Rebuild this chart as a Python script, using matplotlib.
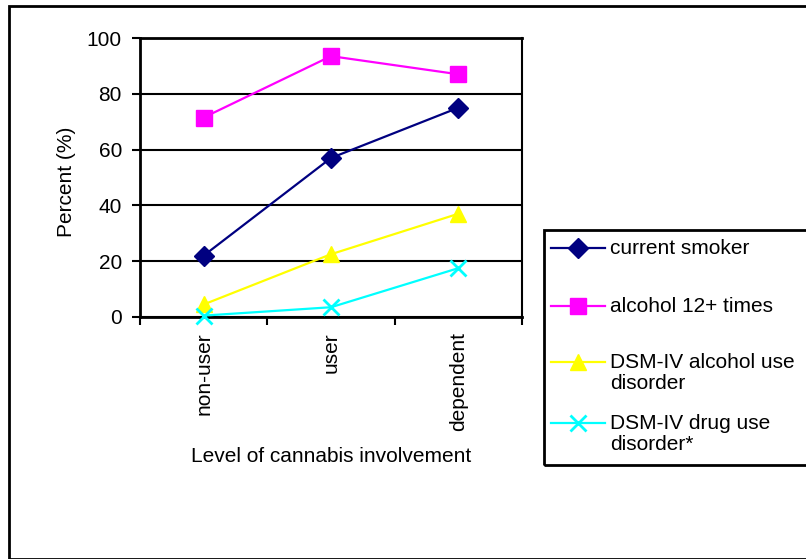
import matplotlib
matplotlib.use("Agg")
import matplotlib.pyplot as plt
from matplotlib.lines import Line2D
from matplotlib.patches import Rectangle

plt.rcParams['font.family'] = ['Liberation Sans', 'DejaVu Sans']

categories = ["non-user", "user", "dependent"]
series_names = ["current smoker", "alcohol 12+ times",
                "DSM-IV alcohol use\ndisorder", "DSM-IV drug use\ndisorder*"]
current_smoker = [22, 57, 75]
alcohol_12 = [71.5, 93.5, 87]
dsm_alcohol = [4.5, 22.5, 37]
dsm_drug = [0.5, 3.5, 17.5]
y_ticks = [0, 20, 40, 60, 80, 100]

values = [current_smoker, alcohol_12, dsm_alcohol, dsm_drug]
colors = ["#000080", "#FF00FF", "#FFFF00", "#00FFFF"]
markers = ["D", "s", "^", "x"]
msizes = [10, 11, 11, 11]
FS = 15

W, H = 806, 559
fig = plt.figure(figsize=(W / 100, H / 100), dpi=100)

# outer chart frame
fig.patches.append(Rectangle((9 / W, 0), 2, 1 - 6 / H, transform=fig.transFigure,
                             fill=False, edgecolor="black", linewidth=2))

ax = fig.add_axes([140 / W, 1 - 317 / H, (522 - 140) / W, (317 - 38) / H])
x = list(range(len(categories)))
for vals, c, m, ms in zip(values, colors, markers, msizes):
    ax.plot(x, vals, color=c, linewidth=1.6, marker=m, markersize=ms,
            markeredgewidth=2 if m == "x" else 1, markeredgecolor=c,
            markerfacecolor=c, clip_on=False, zorder=3)

ax.set_xlim(-0.5, len(categories) - 0.5)
ax.set_ylim(0, 100)
ax.set_yticks(y_ticks)
ax.tick_params(axis='y', direction='out', length=6, width=1.5, labelsize=FS, pad=7)
ax.set_xticks(x)
ax.set_xticklabels(categories, rotation=90, fontsize=FS)
ax.tick_params(axis='x', which='major', length=0, pad=11)
ax.set_xticks([i - 0.5 for i in range(len(categories) + 1)], minor=True)
ax.tick_params(axis='x', which='minor', direction='out', length=6, width=1.5)
ax.grid(axis='y', color='black', linewidth=1.5)
ax.set_axisbelow(True)
for side in ["left", "bottom", "top"]:
    ax.spines[side].set_linewidth(2)
ax.spines["right"].set_linewidth(1.5)

fig.text(67 / W, 1 - 182 / H, "Percent (%)", rotation=90, ha='center', va='center', fontsize=FS)
fig.text(331 / W, 1 - 457 / H, "Level of cannabis involvement", ha='center', va='center', fontsize=FS)

# legend box and entries
fig.patches.append(Rectangle((544 / W, 1 - 465 / H), 2, (465 - 230) / H, transform=fig.transFigure,
                             fill=False, edgecolor="black", linewidth=2))
handle_y = [248, 306, 362, 423]
for name, c, m, ms, hy in zip(series_names, colors, markers, msizes, handle_y):
    yf = 1 - hy / H
    fig.lines.append(Line2D([551 / W, 605 / W], [yf, yf], transform=fig.transFigure,
                            color=c, linewidth=1.6))
    fig.lines.append(Line2D([578 / W], [yf], transform=fig.transFigure, color=c,
                            marker=m, markersize=ms, markerfacecolor=c, markeredgecolor=c,
                            markeredgewidth=2 if m == "x" else 1))
    fig.text(610 / W, yf + 9 / H, name, ha='left', va='top', fontsize=FS, linespacing=1.15)

fig.savefig("out.png", dpi=100)
